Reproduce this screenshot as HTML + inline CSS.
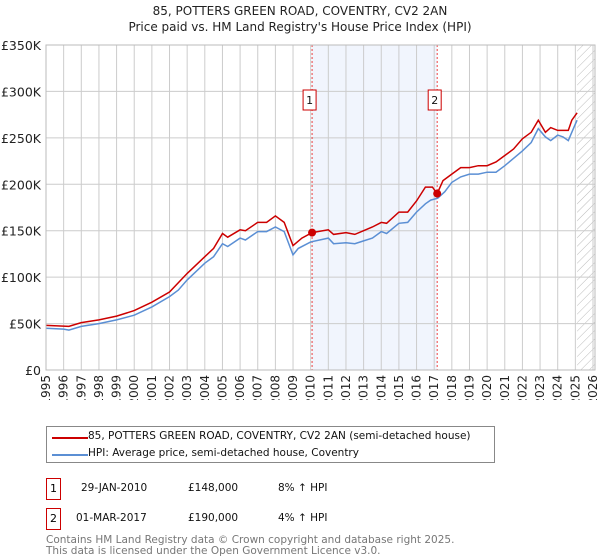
<!DOCTYPE html>
<html><head><meta charset="utf-8"><style>
body{margin:0;width:600px;height:560px;background:#fff;font-family:"DejaVu Sans","Liberation Sans",sans-serif;position:relative;overflow:hidden}
.t{position:absolute;left:0;width:600px;text-align:center;font-size:12px;color:#222}
.leg{position:absolute;left:46px;top:426px;width:447px;height:35px;border:1px solid #888}
.row{position:absolute;font-size:10.5px;color:#111;white-space:nowrap}
.box{position:absolute;width:13px;height:20px;border:1px solid #c00;font-size:11px;text-align:center;line-height:20px}
.foot{position:absolute;left:46px;font-size:10.5px;color:#777;line-height:11px;white-space:nowrap}
</style></head><body>
<div class="t" style="top:4px">85, POTTERS GREEN ROAD, COVENTRY, CV2 2AN</div>
<div class="t" style="top:20px">Price paid vs. HM Land Registry's House Price Index (HPI)</div>
<svg id="c" width="600" height="400" style="position:absolute;left:0;top:0"></svg>
<div class="leg">
 <div style="position:absolute;left:5px;top:10px;width:36px;height:2px;background:#c00"></div>
 <div class="row" style="left:41px;top:3px">85, POTTERS GREEN ROAD, COVENTRY, CV2 2AN (semi-detached house)</div>
 <div style="position:absolute;left:5px;top:27px;width:36px;height:2px;background:#5b8fd4"></div>
 <div class="row" style="left:41px;top:20px">HPI: Average price, semi-detached house, Coventry</div>
</div>
<div class="box" style="left:46px;top:478px">1</div>
<div class="row" style="left:81px;top:482px">29-JAN-2010</div>
<div class="row" style="left:188px;top:482px">£148,000</div>
<div class="row" style="left:278px;top:482px">8% ↑ HPI</div>
<div class="box" style="left:46px;top:508px">2</div>
<div class="row" style="left:76px;top:512px">01-MAR-2017</div>
<div class="row" style="left:188px;top:512px">£190,000</div>
<div class="row" style="left:278px;top:512px">4% ↑ HPI</div>
<div class="foot" style="top:535px">Contains HM Land Registry data © Crown copyright and database right 2025.<br>This data is licensed under the Open Government Licence v3.0.</div>
<script>
const hpiYears=[1995,1996,1996.3,1997,1998,1999,2000,2001,2002,2002.5,2003,2004,2004.5,2005,2005.3,2006,2006.3,2007,2007.5,2008,2008.5,2009,2009.3,2010,2011,2011.3,2012,2012.5,2013,2013.5,2014,2014.3,2015,2015.5,2016,2016.5,2016.8,2017.2,2017.6,2018,2018.5,2019,2019.5,2020,2020.5,2021,2021.5,2022,2022.5,2022.9,2023.3,2023.6,2024,2024.3,2024.6,2024.8,2025,2025.1];
const hpiValues=[45,44,43,47,50,54,59,68,79,86,97,115,122,136,133,142,140,149,149,154,149,124,131,138,142,136,137,136,139,142,149,147,158,159,170,179,183,185,192,202,208,211,211,213,213,220,228,236,245,260,251,247,253,251,247,256,265,269];
const propYears=[1995,1996.3,1997,1998,1999,2000,2001,2002,2003,2004,2004.5,2005,2005.3,2006,2006.3,2007,2007.5,2008,2008.5,2009,2009.5,2010.08,2011,2011.3,2012,2012.5,2013,2013.5,2014,2014.3,2015,2015.5,2016,2016.5,2016.9,2017.17,2017.5,2018,2018.5,2019,2019.5,2020,2020.5,2021,2021.5,2022,2022.5,2022.9,2023.3,2023.6,2024,2024.3,2024.6,2024.8,2025.1];
const propValues=[48,47,51,54,58,64,73,84,104,122,131,147,143,151,150,159,159,166,159,134,142,148,151,146,148,146,150,154,159,158,170,170,182,197,197,190,204,211,218,218,220,220,224,231,238,249,256,269,256,261,258,258,258,269,277];
const saleYears=[2010.08,2017.17];
const saleValues=[148,190];
const saleLabels=["1","2"];
const yTicks=[0,50,100,150,200,250,300,350];
const yTickLabels=["£0","£50K","£100K","£150K","£200K","£250K","£300K","£350K"];
const xTicks=[];for(let y=1995;y<=2026;y++)xTicks.push(y);
const svg=document.getElementById('c');const NS='http://www.w3.org/2000/svg';
const X0=46,X1=593,Y0=370,Y1=45,R=595;
const sx=v=>X0+(v-1995)*(X1-X0)/31, sy=v=>Y0-(v)*(Y0-Y1)/350;
function mk(t,a,p){const e=document.createElementNS(NS,t);for(const k in a)e.setAttribute(k,a[k]);(p||svg).appendChild(e);return e;}
let e;
e=mk('rect',{x:sx(saleYears[0]),y:Y1,width:sx(saleYears[1])-sx(saleYears[0]),height:Y0-Y1,fill:'#eef3fc',opacity:0.8});


const defs=mk('defs',{});const pat=mk('pattern',{id:'h',width:6,height:6,patternUnits:'userSpaceOnUse',patternTransform:'rotate(45)'},defs);
mk('line',{x1:0,y1:0,x2:0,y2:6,stroke:'#bbb','stroke-width':1},pat);
e=mk('rect',{x:sx(2025.1),y:Y1,width:R-sx(2025.1),height:Y0-Y1,fill:'url(#h)'});


xTicks.forEach(y=>{const x=sx(y);
 e=mk('line',{x1:x,y1:Y1,x2:x,y2:Y0,stroke:'#ccc'});
 
 
 e=mk('text',{x:x+4,y:Y0+5,'font-size':12,fill:'#222','text-anchor':'end',transform:`rotate(-90 ${x+4} ${Y0+5})`,'font-family':'DejaVu Sans, sans-serif'});e.textContent=y;
 
 });
yTicks.forEach((v,i)=>{const y=sy(v);
 e=mk('line',{x1:X0,y1:y,x2:R,y2:y,stroke:'#ccc'});
 
 
 e=mk('text',{x:X0-5,y:y+5,'font-size':12.5,fill:'#222','text-anchor':'end','font-family':'DejaVu Sans, sans-serif'});e.textContent=yTickLabels[i];
 
 });
saleYears.forEach((s,i)=>{const x=sx(s);
 e=mk('line',{x1:x,y1:Y1,x2:x,y2:Y0,stroke:'#e44','stroke-dasharray':'2,2','stroke-width':1});
 
 
 e=mk('rect',{x:x-9,y:90,width:13,height:20,fill:'#fff',stroke:'#c00'});
 
 
 e=mk('text',{x:x-2.5,y:104,'font-size':11,'text-anchor':'middle',fill:'#111','font-family':'DejaVu Sans, sans-serif'});e.textContent=saleLabels[i];
 
 });
const pts=(xs,ys)=>xs.map((x,i)=>sx(x).toFixed(1)+','+sy(ys[i]).toFixed(1)).join(' ');
e=mk('polyline',{points:pts(hpiYears,hpiValues),fill:'none',stroke:'#5b8fd4','stroke-width':1.5});


e=mk('polyline',{points:pts(propYears,propValues),fill:'none',stroke:'#c00','stroke-width':1.5});


saleYears.forEach((s,i)=>{
 e=mk('circle',{cx:sx(s),cy:sy(saleValues[i]),r:4,fill:'#c00'});
 
 });
e=mk('rect',{x:X0,y:Y1,width:R-X0,height:Y0-Y1,fill:'none',stroke:'#bbb'});


</script>
</body></html>
